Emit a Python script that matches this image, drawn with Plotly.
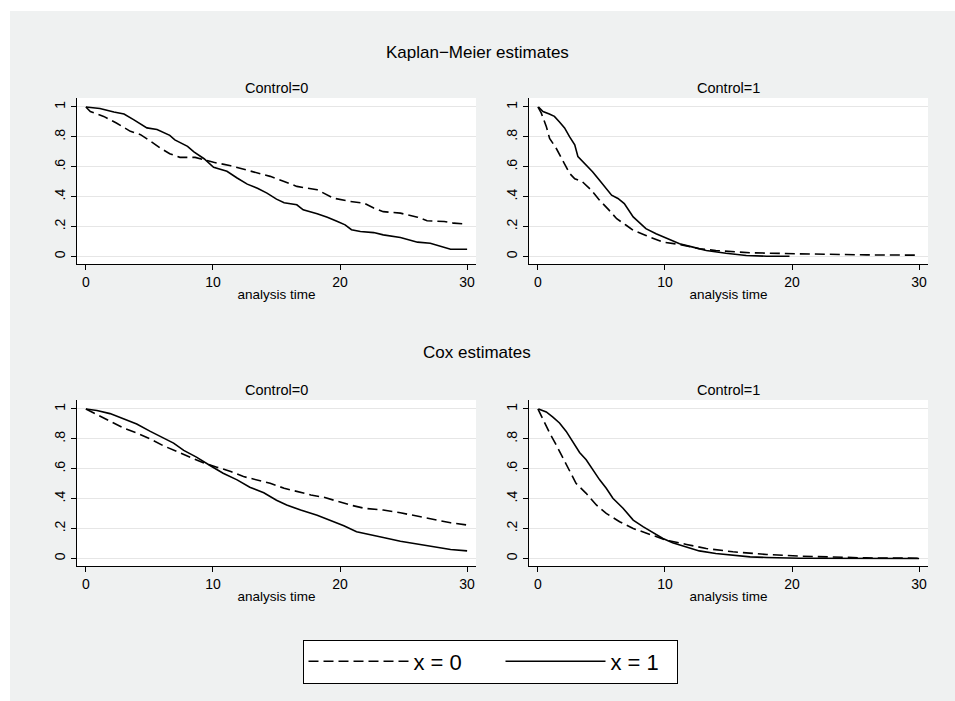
import plotly.graph_objects as go

# ---------------- data ----------------
# Kaplan-Meier, Control=0
km0_x0_t = [0, 0.35, 1.4, 2.4, 3.5, 4.3, 5.1, 5.85, 6.6, 7.4, 8.6, 9.3, 10.05, 11.4, 12.4, 13.5, 14.5, 15.6, 16.6, 18.2, 19.5, 20.8, 21.9, 22.65, 23.4, 24.75, 26.1, 26.85, 28.2, 28.95, 29.7]
km0_x0_s = [1.0, 0.97, 0.937, 0.893, 0.837, 0.815, 0.77, 0.725, 0.687, 0.663, 0.663, 0.647, 0.63, 0.607, 0.585, 0.558, 0.536, 0.502, 0.469, 0.446, 0.39, 0.368, 0.357, 0.324, 0.30, 0.29, 0.263, 0.239, 0.234, 0.223, 0.219]
km0_x1_t = [0, 1.1, 2.2, 3.0, 3.75, 4.8, 5.6, 6.6, 7.0, 8.0, 8.5, 9.3, 10.05, 11.1, 11.9, 12.7, 13.5, 14.25, 15.0, 15.6, 16.6, 17.1, 18.2, 19.0, 19.8, 20.4, 20.9, 21.6, 22.65, 23.4, 24.75, 25.5, 26.1, 27.1, 27.9, 28.7, 30.0]
km0_x1_s = [1.0, 0.99, 0.967, 0.953, 0.915, 0.86, 0.85, 0.81, 0.78, 0.737, 0.70, 0.654, 0.596, 0.57, 0.525, 0.484, 0.457, 0.424, 0.384, 0.36, 0.346, 0.312, 0.286, 0.263, 0.234, 0.212, 0.179, 0.167, 0.16, 0.145, 0.127, 0.112, 0.096, 0.089, 0.067, 0.049, 0.049]

# Kaplan-Meier, Control=1
km1_x0_t = [0, 0.26, 0.66, 0.92, 1.44, 1.97, 2.5, 2.9, 3.5, 4.2, 4.85, 5.6, 6.2, 6.95, 7.5, 8.5, 9.85, 11.15, 12.7, 14.0, 16.7, 20.6, 23.2, 25.85, 30.0]
km1_x0_s = [1.0, 0.96, 0.87, 0.79, 0.724, 0.635, 0.556, 0.52, 0.50, 0.444, 0.377, 0.31, 0.253, 0.209, 0.175, 0.141, 0.096, 0.081, 0.052, 0.04, 0.025, 0.018, 0.013, 0.011, 0.009]
km1_x1_t = [0.05, 0.4, 0.9, 1.3, 1.7, 2.1, 2.5, 2.9, 3.15, 3.8, 4.3, 4.85, 5.25, 5.8, 6.3, 6.8, 7.5, 8.0, 8.5, 9.3, 10.1, 11.15, 12.2, 13.25, 14.8, 16.4, 18.0, 19.8]
km1_x1_s = [1.0, 0.97, 0.953, 0.937, 0.90, 0.86, 0.80, 0.747, 0.668, 0.612, 0.567, 0.51, 0.466, 0.41, 0.388, 0.354, 0.265, 0.224, 0.186, 0.152, 0.123, 0.085, 0.063, 0.04, 0.022, 0.007, 0.002, 0.002]

# Cox, Control=0
cox0_x0_t = [0, 0.87, 1.9, 2.97, 4.0, 5.07, 6.1, 7.2, 8.2, 9.3, 10.3, 11.4, 12.4, 13.5, 14.5, 15.6, 16.6, 17.7, 18.7, 19.8, 20.8, 21.9, 23.4, 24.75, 26.1, 27.4, 28.7, 30.0]
cox0_x0_s = [1.0, 0.962, 0.917, 0.872, 0.839, 0.799, 0.754, 0.716, 0.678, 0.638, 0.611, 0.582, 0.548, 0.526, 0.503, 0.47, 0.447, 0.425, 0.41, 0.38, 0.358, 0.336, 0.324, 0.306, 0.284, 0.262, 0.239, 0.224]
cox0_x1_t = [0, 0.87, 1.9, 2.97, 4.0, 5.07, 6.1, 6.9, 7.7, 8.7, 9.8, 10.8, 11.9, 12.9, 14.0, 15.0, 15.8, 16.9, 18.2, 19.2, 20.3, 21.3, 22.4, 23.4, 24.75, 26.1, 27.4, 28.7, 30.0]
cox0_x1_s = [1.0, 0.99, 0.969, 0.933, 0.90, 0.85, 0.805, 0.772, 0.723, 0.678, 0.62, 0.57, 0.526, 0.477, 0.44, 0.39, 0.358, 0.324, 0.29, 0.257, 0.219, 0.179, 0.157, 0.141, 0.116, 0.096, 0.078, 0.06, 0.051]

# Cox, Control=1
cox1_x0_t = [0, 0.4, 0.92, 1.44, 1.97, 2.5, 3.0, 3.8, 4.6, 5.38, 6.43, 7.5, 8.8, 10.1, 11.7, 13.25, 15.35, 18.0, 20.6, 23.2, 25.85, 30.0]
cox1_x0_s = [1.0, 0.93, 0.84, 0.76, 0.671, 0.58, 0.503, 0.436, 0.358, 0.302, 0.246, 0.201, 0.163, 0.123, 0.094, 0.067, 0.045, 0.027, 0.016, 0.009, 0.004, 0.002]
cox1_x1_t = [0.05, 0.66, 1.18, 1.7, 2.23, 2.76, 3.28, 3.8, 4.33, 4.86, 5.38, 5.9, 6.7, 7.5, 8.27, 9.06, 9.84, 10.6, 11.7, 12.7, 14.0, 15.35, 16.7, 18.0, 20.6, 30.0]
cox1_x1_s = [1.0, 0.98, 0.946, 0.906, 0.85, 0.776, 0.709, 0.66, 0.593, 0.526, 0.47, 0.403, 0.336, 0.257, 0.213, 0.172, 0.134, 0.105, 0.078, 0.051, 0.034, 0.02, 0.011, 0.007, 0.002, 0.0005]

x_ticks = [0, 10, 20, 30]
y_ticks = [0, 0.2, 0.4, 0.6, 0.8, 1.0]
y_ticklabels = ["0", ".2", ".4", ".6", ".8", "1"]
panel_titles = ["Control=0", "Control=1", "Control=0", "Control=1"]
block_titles = ["Kaplan\u2212Meier estimates", "Cox estimates"]
series_names = ["x = 0", "x = 1"]
x_title = "analysis time"

# ---------------- figure ----------------
W, H = 955, 701
FONT = "Liberation Sans, Arial, sans-serif"
BG = "#eff1f1"

def fx(px):
    return px / W

def fy(px):
    return 1 - px / H

# plot-area pixel boxes (left, right, top, bottom)
boxes = [
    (77, 476, 98, 264),
    (529, 928, 98, 264),
    (77, 476, 400, 566),
    (529, 928, 400, 566),
]

panels = [
    (km0_x0_t, km0_x0_s, km0_x1_t, km0_x1_s),
    (km1_x0_t, km1_x0_s, km1_x1_t, km1_x1_s),
    (cox0_x0_t, cox0_x0_s, cox0_x1_t, cox0_x1_s),
    (cox1_x0_t, cox1_x0_s, cox1_x1_t, cox1_x1_s),
]

fig = go.Figure()
DASH = "10px,5px"
LW = 1.6

for i, (t0, s0, t1, s1) in enumerate(panels):
    xa = "x" if i == 0 else f"x{i+1}"
    ya = "y" if i == 0 else f"y{i+1}"
    fig.add_trace(go.Scatter(x=t0, y=s0, mode="lines", xaxis=xa, yaxis=ya,
                             line=dict(color="black", width=LW, dash=DASH),
                             name=series_names[0], showlegend=(i == 0),
                             legendrank=1, legendwidth=82))
    fig.add_trace(go.Scatter(x=t1, y=s1, mode="lines", xaxis=xa, yaxis=ya,
                             line=dict(color="black", width=LW),
                             name=series_names[1], showlegend=(i == 0),
                             legendrank=2, legendwidth=61))

layout = dict(
    width=W, height=H,
    margin=dict(l=0, r=0, t=0, b=0),
    paper_bgcolor=BG,
    plot_bgcolor="white",
    font=dict(family=FONT, color="black", size=14),
    showlegend=True,
)

for i, (l, r, t, b) in enumerate(boxes):
    xk = "xaxis" if i == 0 else f"xaxis{i+1}"
    yk = "yaxis" if i == 0 else f"yaxis{i+1}"
    xa = "x" if i == 0 else f"x{i+1}"
    ya = "y" if i == 0 else f"y{i+1}"
    layout[xk] = dict(
        domain=[fx(l), fx(r)], anchor=ya, range=[-0.7, 30.7],
        tickvals=x_ticks, ticks="outside", ticklen=5, tickwidth=1, tickcolor="black",
        showline=True, linecolor="black", linewidth=1, showgrid=False, zeroline=False,
        tickfont=dict(size=14), fixedrange=True,
        title=dict(text=x_title, font=dict(size=13.5), standoff=0),
    )
    layout[yk] = dict(
        domain=[fy(b), fy(t)], anchor=xa, range=[-0.05, 1.06],
        tickvals=y_ticks, ticktext=y_ticklabels, tickangle=-90,
        ticks="outside", ticklen=5, tickwidth=1, tickcolor="black",
        showline=True, linecolor="black", linewidth=1,
        showgrid=True, gridcolor="#e6e6e6", gridwidth=1, zeroline=False,
        tickfont=dict(size=14), fixedrange=True,
    )

annotations = []
for i, (l, r, t, b) in enumerate(boxes):
    annotations.append(dict(text=panel_titles[i], x=fx((l + r) / 2), y=fy(t - 10),
                            xref="paper", yref="paper", showarrow=False,
                            xanchor="center", yanchor="middle", font=dict(size=14.5)))
annotations.append(dict(text=block_titles[0], x=fx(477), y=fy(52), xref="paper", yref="paper",
                        showarrow=False, xanchor="center", yanchor="middle", font=dict(size=17)))
annotations.append(dict(text=block_titles[1], x=fx(477), y=fy(352), xref="paper", yref="paper",
                        showarrow=False, xanchor="center", yanchor="middle", font=dict(size=17)))
layout["annotations"] = annotations

layout["shapes"] = [
    dict(type="rect", xref="paper", yref="paper", x0=0, x1=fx(10), y0=0, y1=1,
         fillcolor="white", line=dict(width=0), layer="below"),
    dict(type="rect", xref="paper", yref="paper", x0=0, x1=1, y0=fy(11), y1=1,
         fillcolor="white", line=dict(width=0), layer="below"),
]

layout["legend"] = dict(
    orientation="h", x=fx(490), y=fy(661.5), xanchor="center", yanchor="middle",
    bgcolor="white", bordercolor="black", borderwidth=1,
    font=dict(size=22), itemwidth=100, traceorder="normal",
)

fig.update_layout(**layout)
fig.write_html(
    "out.html",
    config={"displayModeBar": False},
    post_script="document.body.style.margin='0';document.body.style.overflow='hidden';",
)
